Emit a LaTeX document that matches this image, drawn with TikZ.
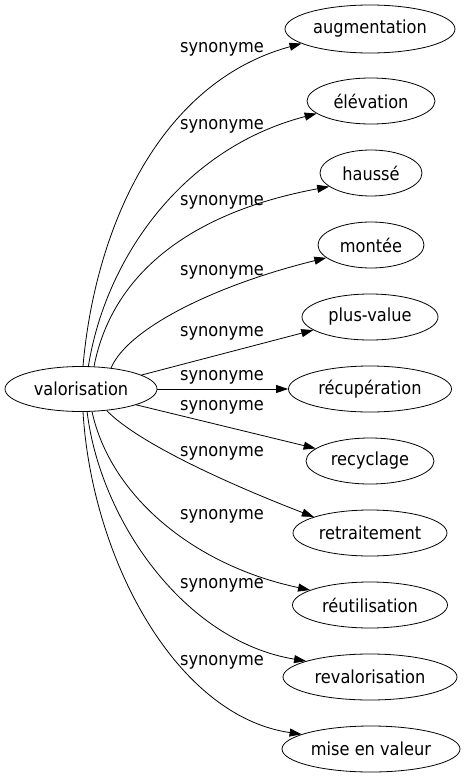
\documentclass[tikz,border=0pt]{standalone}
\usepackage{fontspec}
\setmainfont{DejaVu Sans Condensed}
\usetikzlibrary{shapes.geometric,arrows.meta}
\tikzset{
  term/.style={ellipse,draw,line width=0.8pt,inner sep=0pt,minimum height=46pt,font=\fontsize{18}{20}\selectfont},
  lbl/.style={inner sep=0pt,font=\fontsize{18}{20}\selectfont},
  conn/.style={line width=0.8pt,-{Triangle[length=12pt,width=8pt]}}
}
\begin{document}
\begin{tikzpicture}[x=1pt,y=-1pt]
\useasboundingbox (0,0) rectangle (466,779);
\node[term,minimum width=152pt,minimum height=45pt] (v) at (81,389) {valorisation};
\node[term,minimum width=170pt,minimum height=48pt] (n1) at (370,29) {augmentation};
\node[term,minimum width=128pt] (n2) at (371,101) {élévation};
\node[term,minimum width=102pt] (n3) at (371,173) {haussé};
\node[term,minimum width=106pt] (n4) at (371,245) {montée};
\node[term,minimum width=136pt] (n5) at (370,317) {plus-value};
\node[term,minimum width=163pt] (n6) at (370,389) {récupération};
\node[term,minimum width=128pt] (n7) at (370,461) {recyclage};
\node[term,minimum width=154pt] (n8) at (370,533) {retraitement};
\node[term,minimum width=155pt] (n9) at (370,605) {réutilisation};
\node[term,minimum width=174pt] (n10) at (370,677) {revalorisation};
\node[term,minimum width=178pt] (n11) at (371,749) {mise en valeur};
\node[lbl] (l1) at (222,49) {synonyme};
\node[lbl] (l2) at (222,126) {synonyme};
\node[lbl] (l3) at (222,202) {synonyme};
\node[lbl] (l4) at (222,272) {synonyme};
\node[lbl] (l5) at (222,333) {synonyme};
\node[lbl] (l6) at (222,377) {synonyme};
\node[lbl] (l7) at (222,407) {synonyme};
\node[lbl] (l8) at (222,453) {synonyme};
\node[lbl] (l9) at (222,516) {synonyme};
\node[lbl] (l10) at (222,585) {synonyme};
\node[lbl] (l11) at (222,662) {synonyme};
\draw[conn] (v.85) .. controls +(12,-137) and +(-143,39) .. (n1.192);
\draw[conn] (v.72) .. controls +(17,-107) and +(-135,35) .. (n2.193);
\draw[conn] (v.60) .. controls +(17,-88) and +(-145,27) .. (n3.198);
\draw[conn] (v.35) .. controls +(17,-40) and +(-110,27) .. (n4.196);
\draw[conn] (v.13) -- (n5.193);
\draw[conn] (v.0) -- (n6.180);
\draw[conn] (v.-16) -- (n7.167);
\draw[conn] (v.-40) .. controls +(33,34) and +(-78,-30) .. (n8.164);
\draw[conn] (v.-64) .. controls +(18,83) and +(-118,-25) .. (n9.166);
\draw[conn] (v.-75) .. controls +(13,108) and +(-122,-20) .. (n10.166);
\draw[conn] (v.-85) .. controls +(9,148) and +(-125,-18) .. (n11.168);
\end{tikzpicture}
\end{document}
